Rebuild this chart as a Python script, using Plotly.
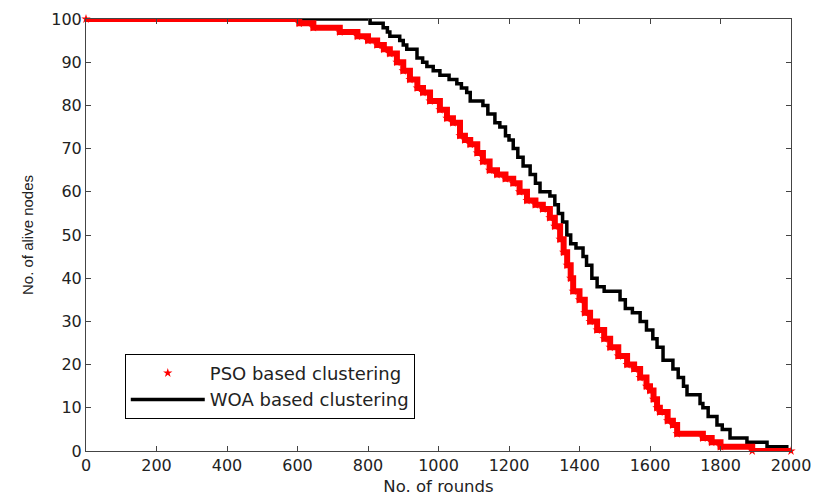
import plotly.graph_objects as go

# PSO based clustering: (round, alive nodes) at each change
pso_rounds = [0, 605, 645, 720, 770, 800, 826, 845, 862, 882, 900, 919, 940, 956, 976, 1004,
              1024, 1041, 1061, 1075, 1090, 1110, 1126, 1145, 1166, 1190, 1212, 1230, 1251,
              1275, 1296, 1316, 1330, 1345, 1355, 1365, 1375, 1382, 1400, 1415, 1430, 1450,
              1470, 1487, 1510, 1535, 1555, 1572, 1590, 1600, 1610, 1620, 1628, 1650, 1665,
              1677, 1750, 1775, 1800, 1890, 2000]
pso_alive = [100, 99, 98, 97, 96, 95, 94, 93, 92, 90, 88, 86, 84, 83, 81, 79,
             77, 76, 73, 72, 71, 69, 67, 65, 64, 63, 62, 60, 58,
             57, 56, 54, 52, 49, 46, 43, 40, 37, 35, 32, 30, 28,
             26, 24, 22, 20, 19, 17, 15, 14, 12, 10, 9, 7, 6,
             4, 3, 2, 1, 0, 0]

# WOA based clustering: (round, alive nodes) at each change
woa_rounds = [0, 806, 843, 855, 862, 890, 900, 910, 939, 955, 967, 985, 1004, 1030, 1052,
              1065, 1080, 1090, 1126, 1140, 1160, 1174, 1190, 1200, 1212, 1225, 1240, 1260,
              1275, 1288, 1316, 1330, 1340, 1352, 1364, 1375, 1390, 1410, 1420, 1435, 1450,
              1470, 1515, 1530, 1550, 1572, 1590, 1608, 1620, 1637, 1665, 1680, 1695, 1705,
              1742, 1750, 1765, 1790, 1805, 1827, 1875, 1932, 1988, 2000]
woa_alive = [100, 99, 98, 97, 96, 95, 94, 93, 91, 90, 89, 88, 87, 86, 85,
             84, 83, 81, 80, 78, 76, 75, 73, 72, 70, 68, 66, 64,
             62, 60, 59, 57, 55, 53, 50, 48, 47, 45, 43, 40, 38,
             37, 35, 33, 32, 30, 28, 26, 24, 21, 19, 17, 15, 13,
             11, 10, 8, 6, 5, 3, 2, 1, 0, 0]

x_ticks = list(range(0, 2001, 200))
y_ticks = list(range(0, 101, 10))

fig = go.Figure()
fig.add_trace(go.Scatter(x=woa_rounds, y=woa_alive, mode="lines", name="WOA based clustering",
                         line=dict(color="black", width=3.5, shape="hv"), legendrank=2))
fig.add_trace(go.Scatter(x=pso_rounds, y=pso_alive, mode="lines", showlegend=False,
                         line=dict(color="#ff0000", width=6, shape="hv")))
fig.add_trace(go.Scatter(x=pso_rounds, y=pso_alive, mode="markers", name="PSO based clustering",
                         marker=dict(color="#ff0000", symbol="star", size=7), legendrank=1,
                         cliponaxis=False))

axis_common = dict(showline=True, linecolor="#444", linewidth=1, mirror="ticks",
                   ticks="inside", ticklen=5, tickcolor="#444", showgrid=False,
                   zeroline=False, tickfont=dict(family="DejaVu Sans", size=16, color="#222"),
                   automargin=False)

fig.update_xaxes(range=[0, 2000], tickvals=x_ticks, ticktext=[str(v) for v in x_ticks],
                 title=dict(text="No. of rounds", standoff=6,
                            font=dict(family="DejaVu Sans", size=16.5, color="#222")),
                 **axis_common)
fig.update_yaxes(range=[0, 100], tickvals=y_ticks, ticktext=[str(v) for v in y_ticks],
                 title=dict(text="No. of alive nodes", standoff=14,
                            font=dict(family="Liberation Sans", size=15, color="#222")),
                 **axis_common)

fig.update_layout(
    width=813, height=496,
    margin=dict(l=86, r=22, t=19, b=45),
    paper_bgcolor="white", plot_bgcolor="white",
    legend=dict(x=0.055, y=0.225, xanchor="left", yanchor="top",
                bordercolor="black", borderwidth=1, bgcolor="white",
                font=dict(family="DejaVu Sans", size=18, color="#222"),
                itemwidth=74, tracegroupgap=0),
)

fig.write_html("out.html")
